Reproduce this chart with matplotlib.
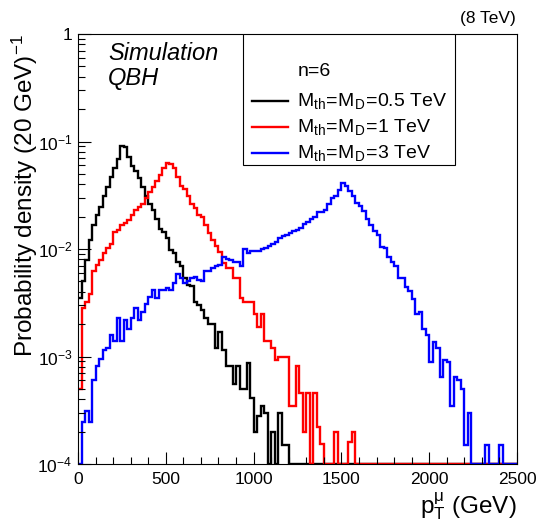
import numpy as np
import matplotlib
matplotlib.use("Agg")
import matplotlib.pyplot as plt
from matplotlib.patches import Rectangle
from matplotlib.ticker import MultipleLocator, LogLocator, FixedLocator, NullFormatter

plt.rcParams["font.family"] = ["Liberation Sans", "DejaVu Sans"]
plt.rcParams["mathtext.fontset"] = "custom"
plt.rcParams["mathtext.rm"] = "Liberation Sans"
plt.rcParams["mathtext.it"] = "Liberation Sans:italic"
plt.rcParams["mathtext.bf"] = "Liberation Sans:bold"

# ----- data: probability density per 20 GeV bin, 0..2500 GeV -----
bin_edges = np.arange(0, 2520, 20)

dens_05tev = [
    0.0035, 0.0050, 0.0079, 0.012, 0.0166, 0.0209, 0.0245, 0.0309, 0.038, 0.0468,
    0.0562, 0.0692, 0.0912, 0.0891, 0.0724, 0.0589, 0.0537, 0.0457, 0.038, 0.0309,
    0.0263, 0.0229, 0.0191, 0.0155, 0.0145, 0.0126, 0.0098, 0.0091, 0.0076, 0.0069,
    0.0054, 0.0046, 0.0045, 0.0032, 0.0030, 0.0027, 0.0023, 0.0020, 0.0020, 0.0012,
    0.0017, 0.00115, 0.00081, 0.00081, 0.00056, 0.00081, 0.0005, 0.0005, 0.00087, 0.00041,
    0.0002, 0.00028, 0.00035, 0.0003, 0, 0.0002, 0, 0.0003, 0.00015, 0.00015,
    0, 0, 0, 0, 0, 0, 0, 0, 0, 0,
    0, 0, 0, 0, 0, 0, 0, 0, 0, 0,
    0, 0, 0, 0, 0, 0, 0, 0, 0, 0,
    0, 0, 0, 0, 0, 0, 0, 0, 0, 0,
    0, 0, 0, 0, 0, 0, 0, 0, 0, 0,
    0, 0, 0, 0, 0, 0, 0, 0, 0, 0,
    0, 0, 0, 0, 0,
]

dens_1tev = [
    0.0005, 0.0028, 0.0032, 0.0038, 0.0063, 0.0071, 0.0079, 0.0091, 0.0102, 0.0112,
    0.0145, 0.0151, 0.0166, 0.0174, 0.0186, 0.0209, 0.0229, 0.0245, 0.0263, 0.0295,
    0.0339, 0.038, 0.0427, 0.049, 0.0562, 0.063, 0.0617, 0.0562, 0.0468, 0.0389,
    0.0363, 0.0309, 0.0263, 0.024, 0.0209, 0.020, 0.0166, 0.0141, 0.012, 0.0107,
    0.0093, 0.0074, 0.0066, 0.0066, 0.0054, 0.0054, 0.0035, 0.0032, 0.0032, 0.0032,
    0.0025, 0.0019, 0.0025, 0.0014, 0.0014, 0.0012, 0.00093, 0.001, 0.001, 0.001,
    0.00035, 0.00035, 0.00081, 0.00046, 0.0002, 0.00046, 0, 0.00046, 0.00022, 0.000155,
    0, 0, 0, 0.0002, 0, 0, 0, 0.00016, 0.0002, 0,
    0, 0, 0, 0, 0, 0, 0, 0, 0, 0,
    0, 0, 0, 0, 0, 0, 0, 0, 0, 0,
    0, 0, 0, 0, 0, 0, 0, 0, 0, 0,
    0, 0, 0, 0, 0, 0, 0, 0, 0, 0,
    0, 0, 0, 0, 0,
]

dens_3tev = [
    0, 0.000245, 0.00031, 0.000245, 0.0006, 0.00081, 0.00095, 0.00115, 0.0012, 0.0016,
    0.0014, 0.0023, 0.0014, 0.0022, 0.0018, 0.0023, 0.0028, 0.0022, 0.0026, 0.0031,
    0.0036, 0.0042, 0.0035, 0.0042, 0.0042, 0.0043, 0.0042, 0.0048, 0.0059, 0.0054,
    0.0048, 0.005, 0.0054, 0.0055, 0.0051, 0.005, 0.0063, 0.0063, 0.0066, 0.0069,
    0.0071, 0.0085, 0.0081, 0.0079, 0.0076, 0.0076, 0.0069, 0.010, 0.0091, 0.0095,
    0.0095, 0.0095, 0.010, 0.0102, 0.0107, 0.0112, 0.0117, 0.0126, 0.0132, 0.0135,
    0.0141, 0.0148, 0.0151, 0.0158, 0.017, 0.0178, 0.019, 0.020, 0.0219, 0.0219,
    0.0229, 0.0263, 0.0295, 0.0309, 0.0355, 0.0407, 0.0389, 0.0347, 0.0309, 0.0269,
    0.0251, 0.0224, 0.019, 0.0166, 0.0148, 0.0135, 0.0105, 0.0102, 0.0085, 0.0076,
    0.0069, 0.0054, 0.0054, 0.0044, 0.0041, 0.0034, 0.0025, 0.0026, 0.0018, 0.0016,
    0.00089, 0.00135, 0.0012, 0.00065, 0.00093, 0.00089, 0.00035, 0.00065, 0.0006, 0.0005,
    0.00015, 0.0003, 0, 0, 0, 0, 0.00015, 0, 0, 0,
    0.00015, 0, 0, 0, 0,
]

series = [
    (dens_05tev, "black", r"$\mathregular{M_{th}\!=\!M_{D}\!=\!0.5\ TeV}$"),
    (dens_1tev, "red", r"$\mathregular{M_{th}\!=\!M_{D}\!=\!1\ TeV}$"),
    (dens_3tev, "blue", r"$\mathregular{M_{th}\!=\!M_{D}\!=\!3\ TeV}$"),
]

Y_MIN, Y_MAX = 1e-4, 1.0

fig = plt.figure(figsize=(5.4, 5.22), dpi=100)
ax = fig.add_axes([78 / 540, 1 - 464 / 522, 439 / 540, 430 / 522])

# ROOT draws empty bins on the bottom of the frame
for vals, col, _ in series:
    v = np.clip(np.asarray(vals, dtype=float), Y_MIN, None)
    ax.stairs(v, bin_edges, color=col, lw=1.7, baseline=None)

ax.set_yscale("log")
ax.set_xlim(0, 2500)
ax.set_ylim(Y_MIN, Y_MAX)

ax.xaxis.set_major_locator(MultipleLocator(500))
ax.xaxis.set_minor_locator(MultipleLocator(100))
ax.yaxis.set_major_locator(FixedLocator([1e-4, 1e-3, 1e-2, 1e-1, 1]))
ax.yaxis.set_minor_locator(LogLocator(base=10, subs=np.arange(2, 10)))
ax.yaxis.set_minor_formatter(NullFormatter())
ax.set_yticklabels([r"$\mathregular{10^{-4}}$", r"$\mathregular{10^{-3}}$",
                    r"$\mathregular{10^{-2}}$", r"$\mathregular{10^{-1}}$", "1"])
ax.tick_params(which="both", direction="in", top=False, right=False, labelsize=12.5)
ax.tick_params(which="major", length=9, width=0.8)
ax.tick_params(which="minor", length=5, width=0.8)
ax.tick_params(axis="x", pad=6)
ax.tick_params(axis="y", pad=4)
for s in ax.spines.values():
    s.set_linewidth(0.8)

ax.set_xlabel(r"$\mathregular{p_{T}^{\mu}}$ (GeV)", fontsize=17.5, loc="right", labelpad=2)
ax.set_ylabel(r"Probability density (20 GeV)$\mathregular{^{-1}}$", fontsize=17.5,
              loc="top", labelpad=-2)

fig.text(516 / 540, 1 - 18 / 522, "(8 TeV)", ha="right", va="center", fontsize=12.5)


def px(x, y):
    # reference pixel position -> axes fraction
    return (x - 78) / 439, (464 - y) / 430


ax.text(*px(108, 53), "Simulation", transform=ax.transAxes, style="italic",
        fontsize=17, ha="left", va="center")
ax.text(*px(108, 79), "QBH", transform=ax.transAxes, style="italic",
        fontsize=17, ha="left", va="center")

# legend box
x0, y0 = px(243, 165)
x1, y1 = px(455, 34)
ax.add_patch(Rectangle((x0, y0), x1 - x0, y1 - y0, transform=ax.transAxes,
                       facecolor="white", edgecolor="black", lw=0.8, zorder=5))
ax.text(*px(298, 71), "n=6", transform=ax.transAxes, fontsize=14,
        ha="left", va="center", zorder=6)
for (vals, col, lab), yy in zip(series, [101, 127, 153]):
    xa, ya = px(252, yy)
    xb, _ = px(288, yy)
    ax.plot([xa, xb], [ya, ya], color=col, lw=1.7, transform=ax.transAxes, zorder=6)
    ax.text(*px(297, yy), lab, transform=ax.transAxes, fontsize=14,
            ha="left", va="center", zorder=6)

fig.savefig("out.png", dpi=100)
